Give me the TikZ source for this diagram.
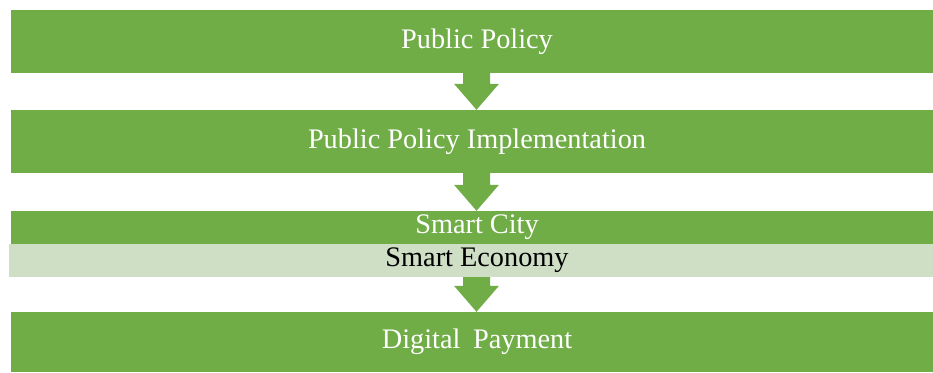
\documentclass[tikz,border=0pt]{standalone}
\usepackage{fontspec}
\setmainfont{Liberation Serif}
\usetikzlibrary{calc}
\definecolor{barGreen}{HTML}{70AD47}
\definecolor{paleGreen}{HTML}{CEDFC6}
\newcommand{\bartext}[1]{\raisebox{-1.5pt}{#1}}
\begin{document}
\begin{tikzpicture}[x=1pt,y=-1pt,
  bar/.style={fill=barGreen,draw=none,inner sep=0pt,text=white,font=\fontsize{28.3}{30}\selectfont},
  palebar/.style={fill=paleGreen,draw=none,inner sep=0pt,text=black,font=\fontsize{28.3}{30}\selectfont},
  blockarrow/.style={fill=barGreen,draw=none}]
\useasboundingbox (0,0) rectangle (933,372);
\node[bar,minimum width=932pt,minimum height=63.5pt] (b1) at (477,41.25) {\bartext{Public Policy}};
\node[bar,minimum width=932pt,minimum height=63pt] (b2) at (477,141.5) {\bartext{Public Policy Implementation}};
\node[bar,minimum width=932pt,minimum height=33pt] (b3) at (477,227.5) {\bartext{Smart City}};
\node[palebar,minimum width=936pt,minimum height=33pt] (b4) at (477,260.5) {\bartext{Smart Economy}};
\node[bar,minimum width=932pt,minimum height=60pt] (b5) at (477,342) {\bartext{Digital\hspace{0.45em}Payment}};
\foreach \a/\b in {b1/b2,b2/b3,b4/b5}{
  \path (\a.south) coordinate (s) (\b.north) coordinate (e);
  \fill[blockarrow] (463,0 |- s) -- (490,0 |- s) -- ($(490,0 |- e)+(0,-26)$) -- ($(499,0 |- e)+(0,-26)$)
     -- (476.5,0 |- e) -- ($(454,0 |- e)+(0,-26)$) -- ($(463,0 |- e)+(0,-26)$) -- cycle;
}
\end{tikzpicture}
\end{document}
